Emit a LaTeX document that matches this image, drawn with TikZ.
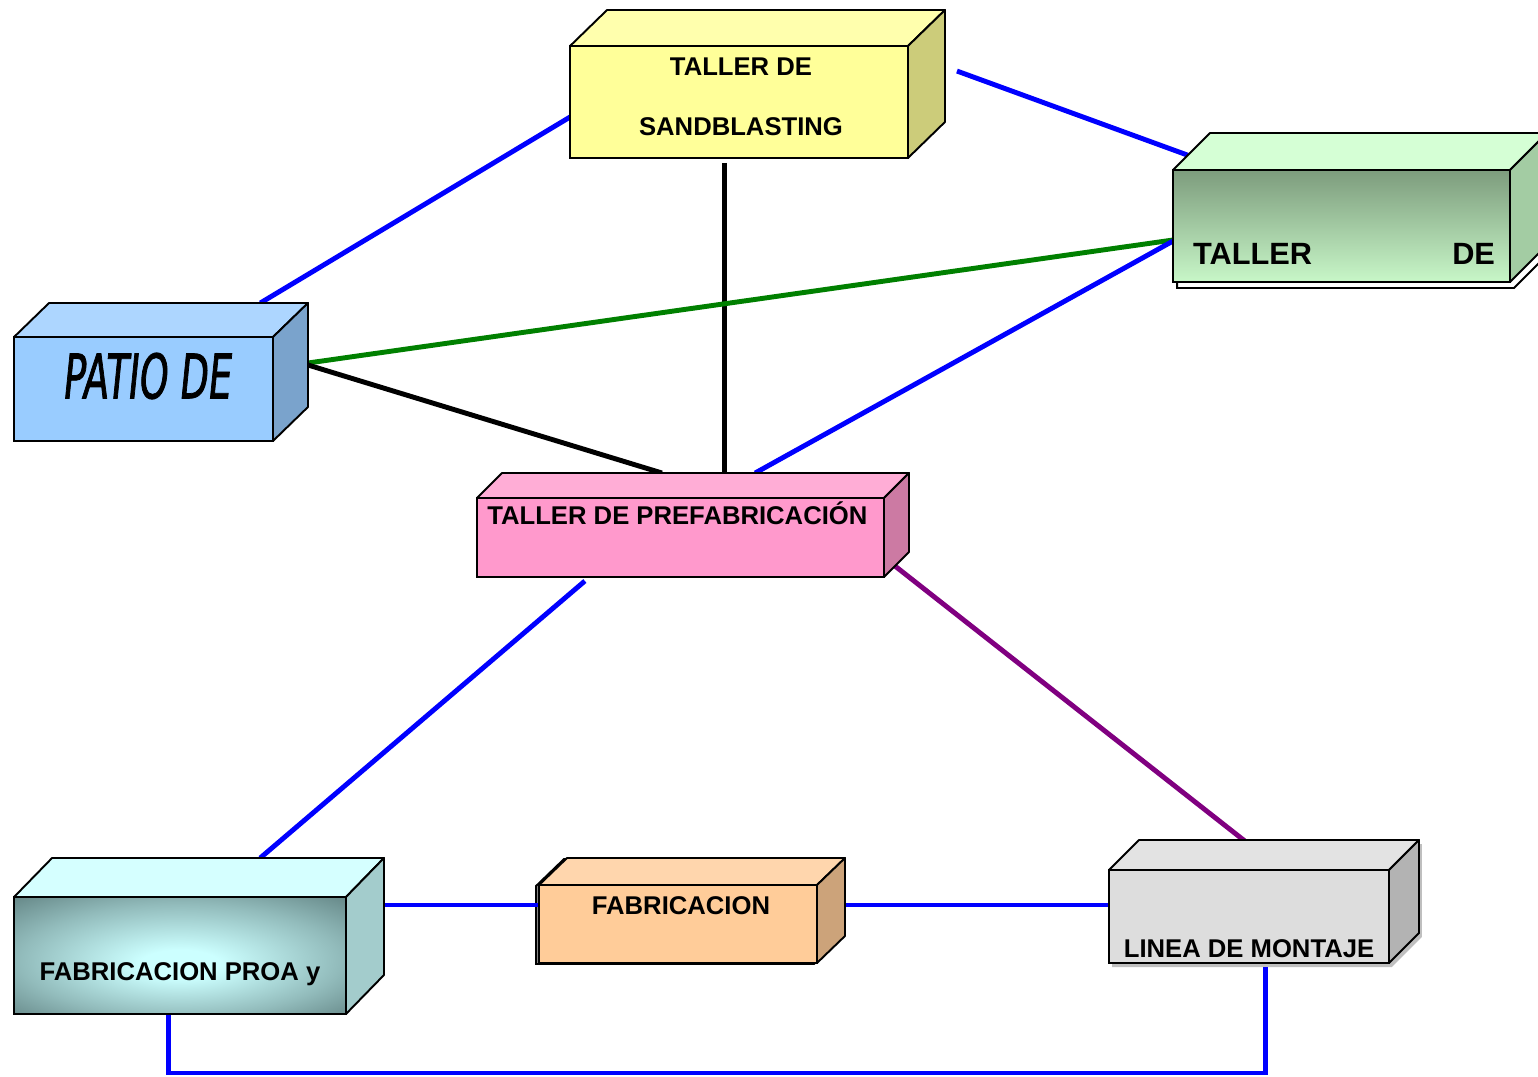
\documentclass[tikz,border=0pt]{standalone}
\usepackage{fontspec}
\setmainfont{Liberation Sans}
\newfontfamily\handfont[FakeStretch=0.6,FakeSlant=0.1,FakeBold=1.2]{DejaVu Sans}
\usepackage{tikz}
\usetikzlibrary{calc,positioning}

\definecolor{sandfront}{RGB}{255,255,153}
\definecolor{sandtop}{RGB}{255,255,173}
\definecolor{sandside}{RGB}{204,204,122}
\definecolor{patiofront}{RGB}{153,204,255}
\definecolor{patiotop}{RGB}{173,214,255}
\definecolor{patioside}{RGB}{122,163,204}
\definecolor{greenhigh}{RGB}{125,156,125}
\definecolor{greenmid}{RGB}{178,222,178}
\definecolor{greenlow}{RGB}{200,247,200}
\definecolor{greentop}{RGB}{213,255,213}
\definecolor{greenside}{RGB}{163,204,163}
\definecolor{prefront}{RGB}{255,153,204}
\definecolor{pretop}{RGB}{255,173,214}
\definecolor{preside}{RGB}{204,122,163}
\definecolor{proainner}{RGB}{204,255,255}
\definecolor{proaouter}{RGB}{88,120,120}
\definecolor{proatop}{RGB}{213,255,255}
\definecolor{proaside}{RGB}{163,204,204}
\definecolor{fabfront}{RGB}{255,204,153}
\definecolor{fabtop}{RGB}{255,214,173}
\definecolor{fabside}{RGB}{204,163,122}
\definecolor{lineafront}{RGB}{221,221,221}
\definecolor{lineatop}{RGB}{227,227,227}
\definecolor{lineaside}{RGB}{179,179,179}
\definecolor{linkblue}{RGB}{0,0,255}
\definecolor{linkgreen}{RGB}{0,128,0}
\definecolor{linkpurple}{RGB}{128,0,128}

% soft glow for the proa box
\pgfdeclareradialshading{proaglow}{\pgfpoint{0bp}{-4bp}}{%
    color(0bp)=(proainner); color(6bp)=(proainner);
    color(24bp)=(proainner!50!proaouter); color(40bp)=(proaouter); color(50bp)=(proaouter)}

\pgfdeclarelayer{background}
\pgfsetlayers{background,main}

\tikzset{
    boxfront/.style={
        rectangle,
        draw=black,
        line width=1.1pt,
        inner sep=0pt,
        outer sep=0pt
    },
    boxtext/.style={
        inner sep=0pt,
        font=\bfseries\fontsize{14.6}{17}\selectfont
    },
    link/.style={
        line width=2.8pt
    }
}

% top and side faces behind a front node: node, dx, dy, top colour, side colour
\newcommand{\cubefaces}[5]{%
    \coordinate (#1-bnw) at ($(#1.north west)+(#2,-#3)$);
    \coordinate (#1-bne) at ($(#1.north east)+(#2,-#3)$);
    \coordinate (#1-bse) at ($(#1.south east)+(#2,-#3)$);
    \filldraw[fill=#4, line width=1.1pt, line join=round] (#1.north west) -- (#1-bnw) -- (#1-bne) -- (#1.north east) -- cycle;
    \filldraw[fill=#5, line width=1.1pt, line join=round] (#1.north east) -- (#1-bne) -- (#1-bse) -- (#1.south east) -- cycle;
}

\begin{document}
\begin{tikzpicture}[x=0.02cm, y=-0.02cm]
\useasboundingbox (0,0) rectangle (1538,1076);

% Taller de sandblasting
\node[boxfront, fill=sandfront, minimum width=6.76cm, minimum height=2.24cm] (sand) at (739,102) {};
\cubefaces{sand}{37}{36}{sandtop}{sandside}
\node[boxtext, anchor=base] (sand-txt1) at (741,75) {TALLER DE};
\node[boxtext, anchor=base] (sand-txt2) at (741,135) {SANDBLASTING};

% Taller de (right)
\node[boxfront, top color=greenhigh, middle color=greenmid, bottom color=greenlow, minimum width=6.74cm, minimum height=2.24cm] (tallerde) at (1341.5,226) {};
\cubefaces{tallerde}{37}{37}{greentop}{greenside}
\node[boxtext, font=\bfseries\fontsize{17.5}{20}\selectfont, text width=6.04cm, anchor=base] (tallerde-txt) at (1344,264) {TALLER\hfill DE};

% Patio de
\node[boxfront, fill=patiofront, minimum width=5.18cm, minimum height=2.08cm] (patio) at (143.5,389) {};
\cubefaces{patio}{35}{34}{patiotop}{patioside}
\node[inner sep=0pt, font=\handfont\fontsize{35}{40}\selectfont] (patio-txt) at (146,376) {PATIO DE};

% Taller de prefabricacion
\node[boxfront, fill=prefront, minimum width=8.14cm, minimum height=1.58cm] (prefab) at (680.5,537.5) {};
\cubefaces{prefab}{25}{25}{pretop}{preside}
\node[boxtext, anchor=base west] (prefab-txt) at (487,524) {TALLER DE PREFABRICACIÓN};

% Fabricacion proa y ...
\node[boxfront, shading=proaglow, minimum width=6.64cm, minimum height=2.34cm] (proa) at (180,955.5) {};
\cubefaces{proa}{38}{39}{proatop}{proaside}
\node[boxtext, anchor=base] (proa-txt) at (180,980) {FABRICACION PROA y};

% Fabricacion
\node[boxfront, fill=fabfront, minimum width=5.56cm, minimum height=1.56cm] (fab) at (678,924) {};
\cubefaces{fab}{28}{27}{fabtop}{fabside}
\node[boxtext, anchor=base] (fab-txt) at (681,914) {FABRICACION};

% Linea de montaje
\node[boxfront, fill=lineafront, minimum width=5.6cm, minimum height=1.86cm] (linea) at (1249,916.5) {};
\cubefaces{linea}{30}{30}{lineatop}{lineaside}
\node[boxtext, anchor=base] (linea-txt) at (1249,957) {LINEA DE MONTAJE};

\begin{pgfonlayer}{background}
% shadows
\filldraw[fill=white, line width=1.1pt] ($(tallerde.north west)+(4,6)$) -- ($(tallerde.south west)+(4,6)$) -- ($(tallerde.south east)+(4,6)$) -- ($(tallerde-bse)+(4,6)$) -- ($(tallerde-bne)+(4,6)$) -- cycle;
\fill[black!25] ($(linea.north west)+(3,4)$) -- ($(linea.south west)+(3,4)$) -- ($(linea.south east)+(3,4)$) -- ($(linea-bse)+(3,4)$) -- ($(linea-bne)+(3,4)$) -- cycle;
\filldraw[fill=black!40, line width=1.1pt] ($(fab.south west)+(-3,1)$) -- ($(fab.north west)+(-3,1)$) -- ($(fab-bnw)+(-3,1)$) -- ($(fab-bne)+(-3,1)$) -- ($(fab-bse)+(-3,1)$) -- ($(fab.south east)+(-3,1)$) -- cycle;

% links
\draw[link, linkblue] ($(patio-bnw)!0.816!(patio-bne)$) -- ($(sand.north west)!0.634!(sand.south west)$);
\draw[link, linkblue] ($(sand-bne)!0.545!(sand-bse)+(12,0)$) -- ($(tallerde.north west)!0.4!(tallerde-bnw)$);
\draw[link, black] ($(sand.south west)!0.456!(sand.south east)+(0,5)$) coordinate (sand-out) -- (sand-out |- prefab-bnw);
\draw[link, linkgreen] ($(patio-bne)!0.577!(patio-bse)$) -- ($(tallerde.north west)!0.625!(tallerde.south west)$);
\draw[link, black] ($(patio-bne)!0.596!(patio-bse)$) -- ($(prefab-bnw)!0.393!(prefab-bne)$);
\draw[link, linkblue] ($(tallerde.north west)!0.634!(tallerde.south west)$) -- ($(prefab-bnw)!0.622!(prefab-bne)$);
\draw[link, linkblue] ($(prefab.south west)!0.265!(prefab.south east)+(0,4)$) -- ($(proa-bnw)!0.627!(proa-bne)$);
\draw[link, linkpurple] ($(prefab.south east)!0.44!(prefab-bse)$) -- ($(linea-bnw)!0.387!(linea-bne)+(0,3)$);
\draw[link, linkblue] ($(fab.north west)!0.256!(fab.south west)$) coordinate (fab-in) -- (fab-in -| proa-bne);
\draw[link, linkblue] (fab-in -| fab-bne) -- (fab-in -| linea.west);
\draw[link, linkblue] ($(proa.south west)!0.464!(proa.south east)$) -- ++(0,59) -| ($(linea.south west)!0.56!(linea.south east)+(0,4)$);
\end{pgfonlayer}
\end{tikzpicture}
\end{document}
